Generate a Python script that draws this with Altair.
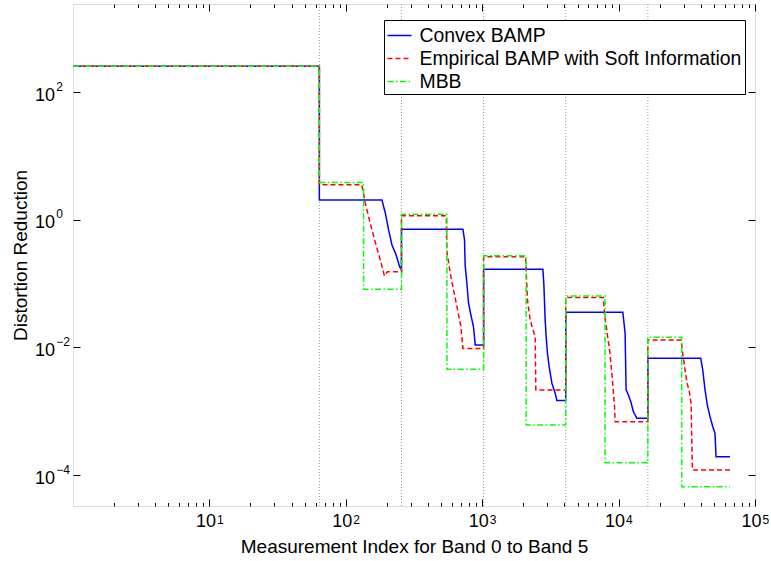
import altair as alt
import pandas as pd

names = ["Convex BAMP", "Empirical BAMP with Soft Information", "MBB"]
colors = ["#0000ff", "#ff0000", "#00ff00"]
dashes = [[1, 0], [5, 3], [6, 2.5, 1.5, 2.5]]

blue_x = [1, 64, 64, 184, 195, 206, 218, 234, 248, 256,
          256, 722, 742, 750, 772, 794, 831, 863, 889, 1024,
          1024, 2785, 2833, 2895, 2944, 3009, 3097, 3243, 3428, 3527,
          4096, 4096, 10740, 11160, 11350, 11800, 12290, 12830, 13590, 16384,
          16384, 40000, 41400, 43000, 44700, 46800, 49000, 50900, 51800, 65536]
blue_y = [256, 256, 2.05, 2.05, 1.27, 0.695, 0.404, 0.282, 0.185, 0.164,
          0.713, 0.713, 0.484, 0.196, 0.101, 0.0493, 0.0304, 0.0212, 0.0109, 0.0109,
          0.168, 0.168, 0.0955, 0.027, 0.0148, 0.0081, 0.0050, 0.00275, 0.00191, 0.00147,
          0.00147, 0.0357, 0.0357, 0.0167, 0.00216, 0.0018, 0.00141, 0.000986, 0.000776, 0.000776,
          0.00678, 0.00678, 0.00444, 0.00216, 0.00126, 0.000822, 0.000574, 0.000452, 0.000194, 0.000194]

red_x = [1, 64, 64, 131, 139, 151, 164, 179, 192, 202,
         256, 256, 545, 551, 583, 616, 653, 698, 722, 1024,
         1024, 2080, 2147, 2248, 2337, 2445, 2473, 4096,
         4096, 7740, 7870, 8340, 8570, 8920, 9320, 9430, 16384,
         16384, 28700, 29500, 31600, 33000, 34000, 34750, 65536]
red_y = [256, 256, 3.55, 3.55, 1.82, 0.885, 0.455, 0.235, 0.132, 0.154,
         0.154, 1.16, 1.16, 0.318, 0.146, 0.0797, 0.0436, 0.0212, 0.0096, 0.0096,
         0.265, 0.265, 0.0555, 0.027, 0.020, 0.0148, 0.00216, 0.00216,
         0.0604, 0.0604, 0.0344, 0.0139, 0.0097, 0.00394, 0.00126, 0.000687, 0.000687,
         0.0131, 0.0131, 0.0081, 0.00291, 0.00203, 0.00133, 0.00012, 0.00012]

green_x = [1, 64, 64, 135, 135, 256, 256, 551, 551, 1024, 1024, 2100, 2100,
           4096, 4096, 7960, 7960, 16384, 16384, 29000, 29000, 65536]
green_y = [256, 256, 3.86, 3.86, 0.0817, 0.0817, 1.22, 1.22, 0.00455, 0.00455,
           0.275, 0.275, 0.00061, 0.00061, 0.0641, 0.0641, 0.000156, 0.000156,
           0.01445, 0.01445, 0.0000658, 0.0000658]

band_edges = [64, 256, 1024, 4096, 16384]

x_major = [10, 100, 1000, 10000, 100000]
x_all_ticks = [m * 10 ** k for k in range(0, 5) for m in range(1, 10)][1:] + [100000]
y_major = [1e-4, 1e-2, 1, 100]

rows = []
for name, xs, ys in zip(names, [blue_x, red_x, green_x], [blue_y, red_y, green_y]):
    for i, (xv, yv) in enumerate(zip(xs, ys)):
        rows.append({"series": name, "order": i, "x": xv, "y": yv})
df = pd.DataFrame(rows)
edges = pd.DataFrame({"x": band_edges})

W, H = 682, 502
FONT = "Liberation Sans"
xscale = alt.Scale(type="log", domain=[1, 100000], nice=False)
yscale = alt.Scale(type="log", domain=[3.27e-5, 2420], nice=False)

major_test = "abs(log(datum.value)/LN10 - round(log(datum.value)/LN10)) < 0.001"
tick_cond = {"condition": {"test": major_test, "value": 7}, "value": 3.5}

sup_expr = "replace('' + round(log(datum.value)/LN10), '-', '\u2212')"

legend_kw = dict(
    title=None, orient="none", legendX=311, legendY=16, symbolType="stroke", symbolSize=576,
    symbolStrokeWidth=1.5, labelFontSize=19.4, labelFont=FONT, labelColor="black", labelOffset=7,
    labelLimit=500, strokeColor="black", fillColor="white", padding=2.5, rowPadding=-1)

rules = alt.Chart(edges).mark_rule(color="#9a9a9a", strokeWidth=1, strokeDash=[1, 2]).encode(
    x=alt.X("x:Q", scale=xscale, axis=None)
)

lines = alt.Chart(df).mark_line(strokeWidth=1.5, interpolate="linear").encode(
    x=alt.X("x:Q", scale=xscale, axis=alt.Axis(
        orient="bottom", values=x_major, labelExpr="'10'", ticks=False, tickSize=0, domain=False,
        grid=False, labelPadding=20, labelBaseline="alphabetic", labelOffset=-4, labelFontSize=18,
        labelFont=FONT, labelColor="black", labelFlush=False, labelOverlap=False,
        title="Measurement Index for Band 0 to Band 5", titleFont=FONT, titleFontSize=19,
        titleFontWeight="normal", titleColor="black", titleY=46, titleBaseline="alphabetic")),
    y=alt.Y("y:Q", scale=yscale, axis=alt.Axis(
        orient="left", values=y_major, labelExpr="'10'", ticks=False, tickSize=0, domain=False,
        grid=False, labelPadding=18.5, labelBaseline="alphabetic", labelOffset=8, labelAlign="right",
        labelFontSize=18, labelFont=FONT, labelColor="black", labelFlush=False, labelOverlap=False,
        title="Distortion Reduction", titleFont=FONT, titleFontSize=19, titleFontWeight="normal",
        titleColor="black", titleX=-47, titleBaseline="alphabetic", titleAngle=-90)),
    color=alt.Color("series:N", scale=alt.Scale(domain=names, range=colors),
                    legend=alt.Legend(**legend_kw)),
    strokeDash=alt.StrokeDash("series:N", scale=alt.Scale(domain=names, range=dashes),
                              legend=alt.Legend(**legend_kw)),
    order="order:Q",
)

sup = alt.Chart(df).mark_point(opacity=0).encode(
    x=alt.X("x:Q", scale=xscale, axis=alt.Axis(
        orient="bottom", values=x_major, labelExpr=sup_expr, ticks=False, tickSize=0, domain=False,
        grid=False, labelPadding=17, labelBaseline="alphabetic", labelAlign="left", labelOffset=7,
        labelFontSize=12, labelFont=FONT, labelColor="black", labelFlush=False, labelOverlap=False,
        title=None)),
    y=alt.Y("y:Q", scale=yscale, axis=alt.Axis(
        orient="left", values=y_major, labelExpr=sup_expr, ticks=False, tickSize=0, domain=False,
        grid=False, labelPadding=17.3, labelBaseline="alphabetic", labelOffset=-2, labelAlign="left",
        labelFontSize=12, labelFont=FONT, labelColor="black", labelFlush=False, labelOverlap=False,
        title=None)),
)

tick_a = alt.Chart(df).mark_point(opacity=0).encode(
    x=alt.X("x:Q", scale=xscale, axis=alt.Axis(
        orient="top", offset=-H, values=x_all_ticks, labels=False, domain=False, grid=False,
        tickSize=tick_cond, tickColor="black", tickWidth=1, title=None)),
    y=alt.Y("y:Q", scale=yscale, axis=alt.Axis(
        orient="right", offset=-W, values=y_major, labels=False, domain=False, grid=False,
        tickSize=7, tickColor="black", tickWidth=1, title=None)),
)

tick_b = alt.Chart(df).mark_point(opacity=0).encode(
    x=alt.X("x:Q", scale=xscale, axis=alt.Axis(
        orient="bottom", offset=-H, values=x_all_ticks, labels=False, domain=False, grid=False,
        tickSize=tick_cond, tickColor="black", tickWidth=1, title=None)),
    y=alt.Y("y:Q", scale=yscale, axis=alt.Axis(
        orient="left", offset=-W, values=y_major, labels=False, domain=False, grid=False,
        tickSize=7, tickColor="black", tickWidth=1, title=None)),
)

chart = alt.layer(rules, lines, sup, tick_a, tick_b).resolve_axis(
    x="independent", y="independent"
).properties(
    width=W, height=H,
    padding={"left": 73, "top": 4, "right": 16, "bottom": 55},
    autosize=alt.AutoSizeParams(type="none"),
).configure_view(
    stroke="black", strokeWidth=1
).configure(background="white")

chart.save("out.html", embed_options={"renderer": "svg", "actions": False})
